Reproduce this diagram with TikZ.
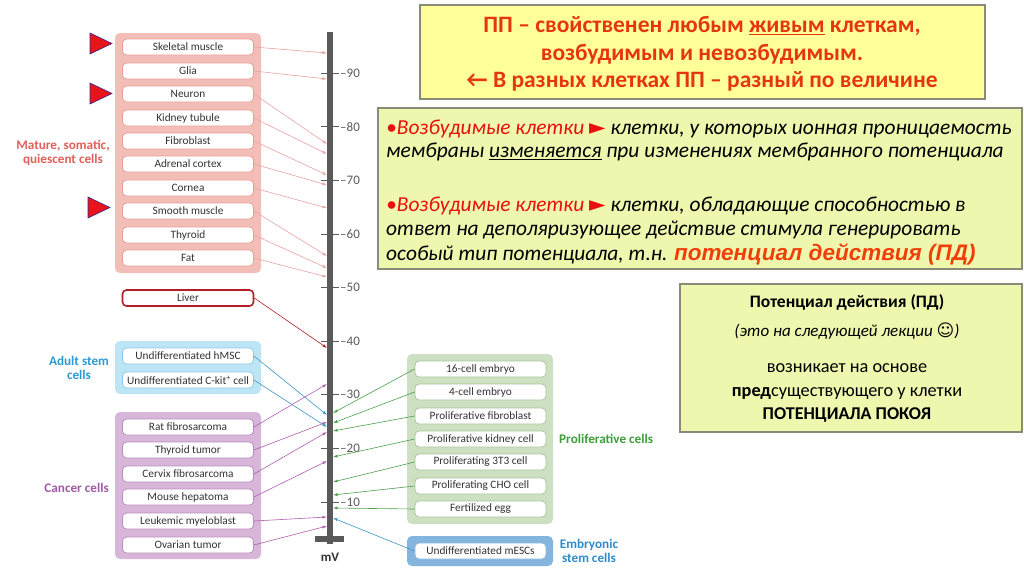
\documentclass[tikz,border=0pt]{standalone}
\usepackage{fontspec}
\setmainfont{Carlito}
\newfontfamily\dejavu{DejaVu Sans}
\newfontfamily\arialf{Liberation Sans}
\usetikzlibrary{arrows.meta}
\definecolor{pinkpanel}{HTML}{F4BEB8}
\definecolor{pinkbord}{HTML}{E89C95}
\definecolor{pinkarrow}{HTML}{E8A3A3}
\definecolor{bluepanel}{HTML}{BEE5F6}
\definecolor{bluebord}{HTML}{8CC8E6}
\definecolor{bluearrow}{HTML}{3C96C8}
\definecolor{purppanel}{HTML}{D7B6DA}
\definecolor{purpbord}{HTML}{B98DBE}
\definecolor{purparrow}{HTML}{B060B0}
\definecolor{greenpanel}{HTML}{CDE0C1}
\definecolor{greenbord}{HTML}{A8C59A}
\definecolor{greenarrow}{HTML}{4E9E4E}
\definecolor{embpanel}{HTML}{84B5DE}
\definecolor{livercol}{HTML}{B01E28}
\definecolor{barcol}{HTML}{5A5A5A}
\definecolor{celltext}{HTML}{333333}
\definecolor{maturelab}{HTML}{E0605A}
\definecolor{adultlab}{HTML}{2E9AD4}
\definecolor{cancerlab}{HTML}{A15BA5}
\definecolor{prolab}{HTML}{3C9E3C}
\definecolor{emblab}{HTML}{2E8BC8}
\definecolor{trired}{HTML}{E8141C}
\definecolor{triblue}{HTML}{2B2B8A}
\definecolor{topfill}{HTML}{FFFF99}
\definecolor{boxfill}{HTML}{EFF6AE}
\definecolor{boxbord}{HTML}{8A8A78}
\definecolor{toptext}{HTML}{E5370F}
\definecolor{redtext}{HTML}{E81010}
\definecolor{pdtext}{HTML}{F0400A}
\begin{document}
\begin{tikzpicture}[x=1pt,y=-1pt,
  cellbox/.style={rectangle,rounded corners=4pt,fill=white,draw=#1,line width=0.8pt,
     minimum width=131pt,minimum height=16pt,inner sep=0pt,
     font=\fontsize{11.3}{13}\selectfont,text=celltext},
  conn/.style={draw=#1,line width=0.6pt,-{Latex[length=4.5pt,width=3pt]}},
  grouplab/.style={font=\fontsize{13.2}{14}\selectfont\bfseries,text=#1,align=center,inner sep=0pt},
  tri/.style={fill=trired,draw=triblue,line width=0.6pt},
  infobox/.style={draw=boxbord,line width=1.2pt,fill=boxfill},
  boxline/.style={anchor=west,inner sep=0pt,font=\fontsize{21.4}{25}\selectfont\itshape},
  b3line/.style={inner sep=0pt,font=\fontsize{18.3}{22}\selectfont}
]
\useasboundingbox (0,0) rectangle (1024,574);
\fill[white] (0,0) rectangle (1024,574);

% panels
\fill[pinkpanel,rounded corners=5pt] (115,33) rectangle (261,273);
\fill[bluepanel,rounded corners=5pt] (115,341) rectangle (261,394);
\fill[purppanel,rounded corners=5pt] (115,412) rectangle (261,559);
\fill[greenpanel,rounded corners=5pt] (407,354) rectangle (553,524);
\fill[embpanel,rounded corners=5pt] (407,536) rectangle (553,566);

% scale bar
\foreach \v [count=\i] in {-90,-80,-70,-60,-50,-40,-30,-20,-10}{
  \pgfmathsetmacro{\yy}{73+(\v+90)*5.3625}
  \draw[barcol,line width=0.7pt] (321,\yy) -- (339,\yy);
  \pgfmathtruncatemacro{\av}{-\v}
  \node[anchor=west,inner sep=0pt,font=\fontsize{13}{14}\selectfont,text=barcol] (tick\i) at (340,\yy) {\textendash\av};
}
\fill[barcol] (327,32) rectangle (333,544);
\fill[barcol] (315,536) rectangle (344,542);
\node[font=\fontsize{13}{14}\selectfont\bfseries,text=celltext] (mv) at (330,557) {mV};

% mature cells
\foreach \n/\t/\y/\e in {m1/Skeletal muscle/47/53, m2/Glia/71/79, m3/Neuron/94/144,
   m4/Kidney tubule/118/154, m5/Fibroblast/141/175, m6/Adrenal cortex/164/185,
   m7/Cornea/188/208, m8/Smooth muscle/211/256, m9/Thyroid/235/268, m10/Fat/258/277}{
  \node[cellbox=pinkbord] (\n) at (188,\y) {\t};
  \coordinate (\n t) at (327,\e);
  \draw[conn=pinkarrow] (\n.east) -- (\n t);
}
\node[grouplab=maturelab] (maturelab) at (63,153) {Mature, somatic,\\quiescent cells};

% triangles
\draw[tri] (90,33) -- (90,54) -- (112,43.5) -- cycle;
\draw[tri] (90,83) -- (90,104) -- (112,93.5) -- cycle;
\draw[tri] (88,197) -- (88,218) -- (110,207.5) -- cycle;

% liver
\node[cellbox=livercol,line width=1.6pt] (liver) at (188,298) {Liver};
\coordinate (livert) at (327,348);
\draw[conn=livercol] (liver.east) -- (livert);

% adult stem
\node[cellbox=bluebord] (a1) at (188,356) {Undifferentiated hMSC};
\node[cellbox=bluebord] (a2) at (188,380) {Undifferentiated C-kit\textsuperscript{+} cell};
\coordinate (a1t) at (327,415);
\coordinate (a2t) at (327,427);
\draw[conn=bluearrow] (a1.east) -- (a1t);
\draw[conn=bluearrow] (a2.east) -- (a2t);
\node[grouplab=adultlab] (adultlab) at (79,367.5) {Adult stem\\cells};

% cancer
\foreach \n/\t/\y/\e in {c1/Rat fibrosarcoma/427/384, c2/Thyroid tumor/450/422,
   c3/Cervix fibrosarcoma/474/432, c4/Mouse hepatoma/497/461,
   c5/Leukemic myeloblast/521/517, c6/Ovarian tumor/545/526}{
  \node[cellbox=purpbord] (\n) at (188,\y) {\t};
  \coordinate (\n t) at (327,\e);
  \draw[conn=purparrow] (\n.east) -- (\n t);
}
\node[grouplab=cancerlab,anchor=east] (cancerlab) at (109,488) {Cancer cells};

% proliferative
\foreach \n/\t/\y/\e in {p1/16-cell embryo/369/413, p2/4-cell embryo/392/423,
   p3/Proliferative fibroblast/416/431, p4/Proliferative kidney cell/439/457,
   p5/Proliferating 3T3 cell/462/482, p6/Proliferating CHO cell/486/495,
   p7/Fertilized egg/509/508}{
  \node[cellbox=greenbord] (\n) at (480.5,\y) {\t};
  \coordinate (\n t) at (333,\e);
  \draw[conn=greenarrow] (\n.west) -- (\n t);
}
\node[grouplab=prolab,anchor=west] (prolab) at (559,439) {Proliferative cells};

% embryonic
\node[cellbox=embpanel] (e1) at (480.5,551) {Undifferentiated mESCs};
\coordinate (e1t) at (333,518);
\draw[conn=bluearrow] (e1.west) -- (e1t);
\node[grouplab=emblab] (emblab) at (589,551) {Embryonic\\stem cells};

% top box
\node[draw=boxbord,line width=1.2pt,fill=topfill,minimum width=565pt,minimum height=94pt,inner sep=0pt] (topbox) at (702.5,52) {};
\node[inner sep=0pt,align=center,text=toptext,font=\fontsize{23.5}{27.5}\selectfont\bfseries] (toptxt) at (702,54)
 {ПП – свойственен любым \underline{живым} клеткам,\\возбудимым и невозбудимым.\\← В разных клетках ПП – разный по величине};

% box 2
\node[infobox,minimum width=644pt,minimum height=161pt,inner sep=0pt] (box2) at (700,188.5) {};
\node[boxline] (l1) at (386,129) {{\color{redtext}•Возбудимые клетки {\dejavu\upshape ►}} клетки, у которых ионная проницаемость};
\node[boxline] (l2) at (386,152) {мембраны \underline{изменяется} при изменениях мембранного потенциала};
\node[boxline] (l3) at (386,206) {{\color{redtext}•Возбудимые клетки {\dejavu\upshape ►}} клетки, обладающие способностью в};
\node[boxline] (l4) at (386,230) {ответ на деполяризующее действие стимула генерировать};
\node[boxline] (l5) at (386,254) {особый тип потенциала, т.н. {\arialf\fontsize{22.5}{25}\selectfont\bfseries\itshape\color{pdtext}потенциал действия (ПД)}};

% box 3
\node[infobox,minimum width=342pt,minimum height=148pt,inner sep=0pt] (box3) at (851,358) {};
\node[b3line,font=\fontsize{17.5}{20}\selectfont\bfseries] (b31) at (847,302) {Потенциал действия (ПД)};
\node[b3line,font=\fontsize{17}{20}\selectfont\itshape] (b32) at (847,331) {(это на следующей лекции {\dejavu\upshape ☺})};
\node[b3line] (b33) at (847,368) {возникает на основе};
\node[b3line] (b34) at (847,393) {\textbf{пред}существующего у клетки};
\node[b3line,font=\fontsize{18}{22}\selectfont\bfseries] (b35) at (847,415) {ПОТЕНЦИАЛА ПОКОЯ};
\end{tikzpicture}
\end{document}
